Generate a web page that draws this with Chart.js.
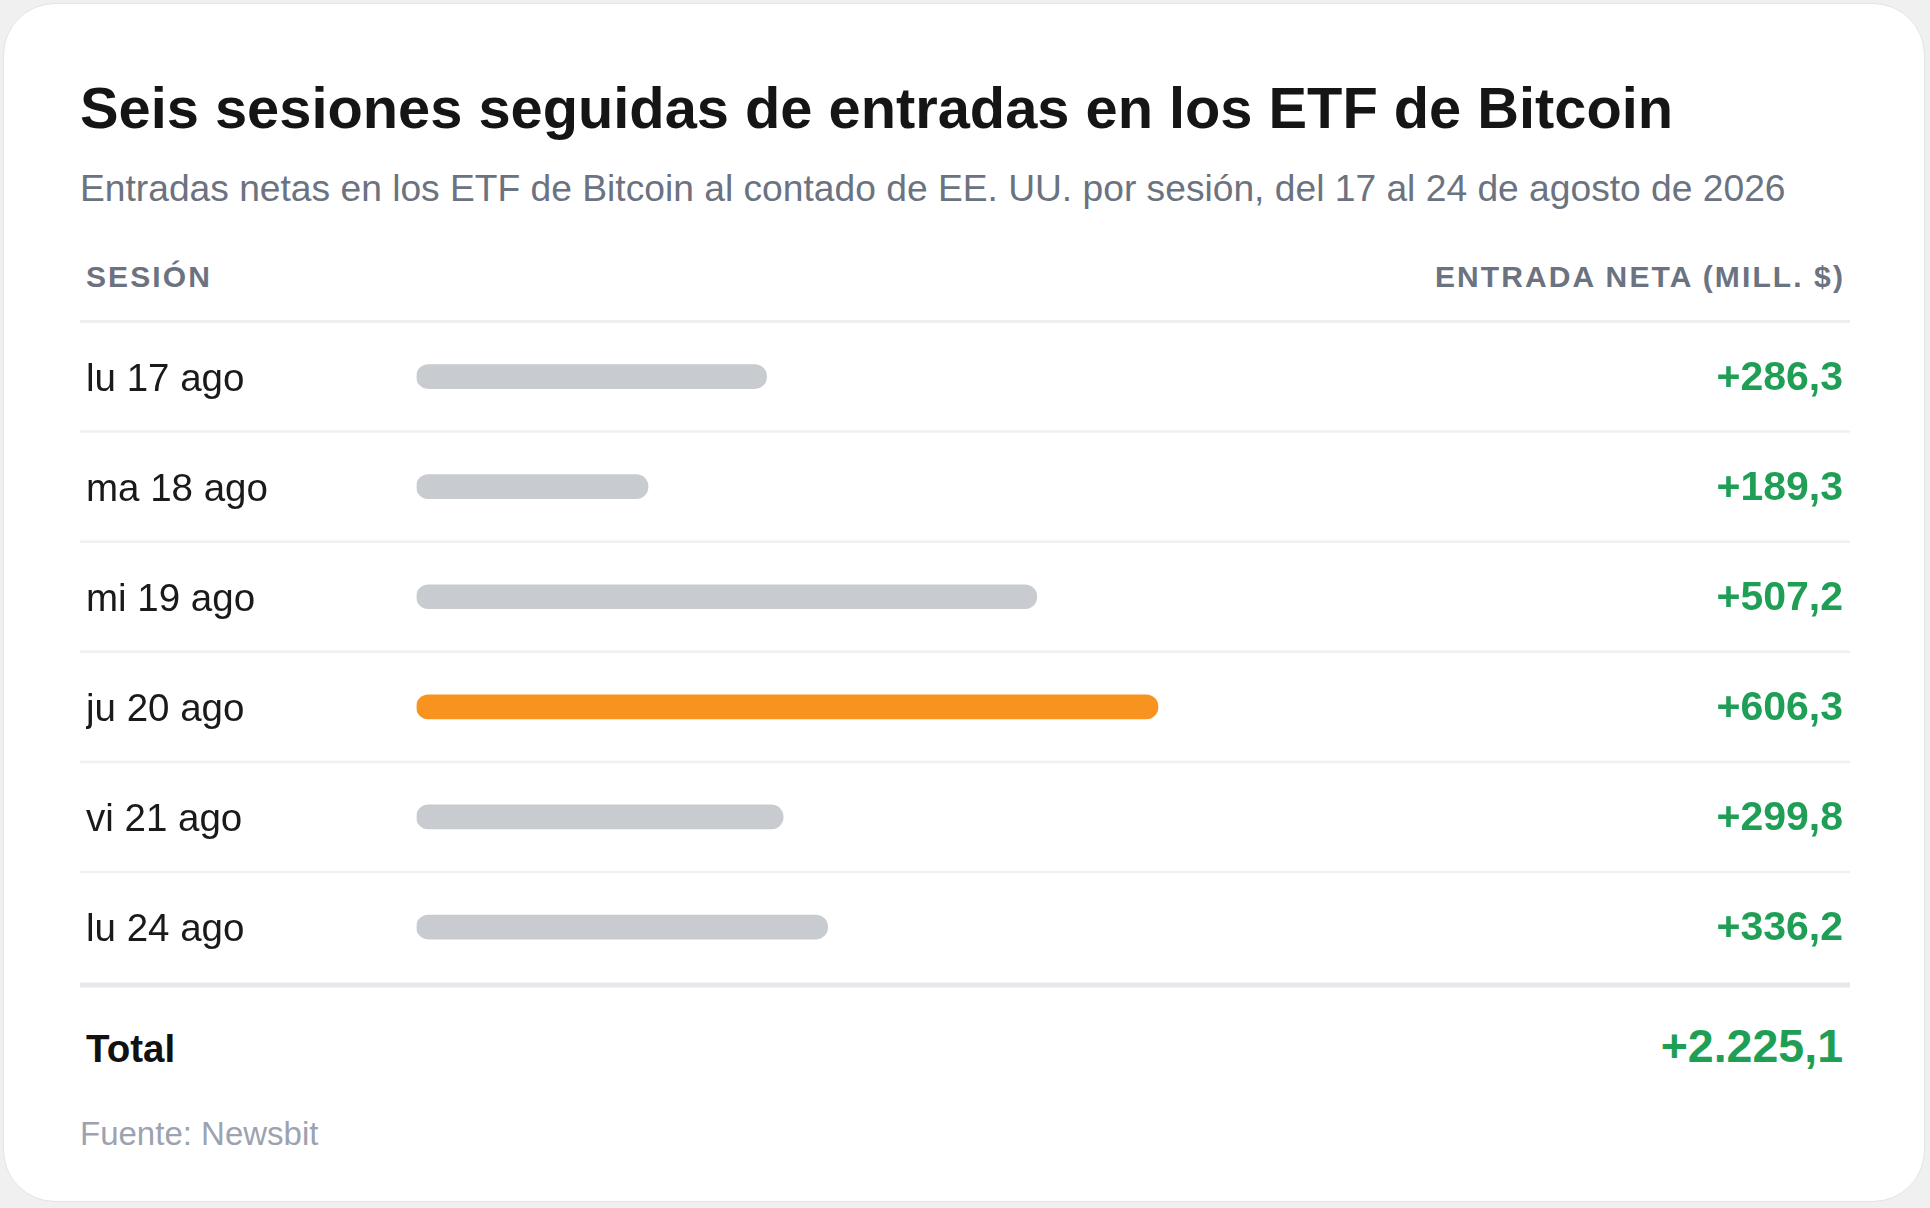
<!DOCTYPE html>
<html lang="es">
<head>
<meta charset="utf-8">
<title>Entradas en los ETF de Bitcoin</title>
<script src="https://cdn.jsdelivr.net/npm/chart.js@4"></script>
<style>
  html, body { margin: 0; padding: 0; }
  body {
    width: 1930px; height: 1208px; background: #f0f0f0;
    font-family: "Liberation Sans", Arial, Helvetica, sans-serif;
    position: relative; overflow: hidden;
  }
  .card {
    position: absolute; left: 3px; top: 3px; width: 1920px; height: 1197px;
    background: #fff; border: 1px solid #e3e3e3; border-radius: 52px;
  }
  .t { position: absolute; white-space: nowrap; line-height: 1; }
  #title { left: 80px; top: 80px; font-size: 57.8px; font-weight: 700; color: #151515; }
  #subtitle { left: 80px; top: 170px; font-size: 37.2px; color: #6b7280; }
  .head { top: 262px; font-size: 30px; font-weight: 700; color: #6b7280; letter-spacing: 2.1px; }
  #headL { left: 86px; }
  #headR { right: 85px; }
  #totalL { left: 86px; top: 1030px; font-size: 38.5px; font-weight: 700; color: #111; }
  #totalR { right: 87px; top: 1023px; font-size: 46.5px; font-weight: 700; color: #1f9e55; }
  #source { left: 80px; top: 1117px; font-size: 33px; color: #9ca3af; }
  #wrap { position: absolute; left: 80px; top: 315px; width: 1770px; height: 680px; }
</style>
</head>
<body>
<div class="card"></div>
<div class="t" id="title">Seis sesiones seguidas de entradas en los ETF de Bitcoin</div>
<div class="t" id="subtitle">Entradas netas en los ETF de Bitcoin al contado de EE. UU. por sesión, del 17 al 24 de agosto de 2026</div>
<div class="t head" id="headL">SESIÓN</div>
<div class="t head" id="headR">ENTRADA NETA (MILL. $)</div>
<div id="wrap"><canvas id="flows"></canvas></div>
<div class="t" id="totalL">Total</div>
<div class="t" id="totalR"></div>
<div class="t" id="source">Fuente: Newsbit</div>

<script>
  const sessions = ['lu 17 ago', 'ma 18 ago', 'mi 19 ago', 'ju 20 ago', 'vi 21 ago', 'lu 24 ago'];
  const netInflows = [286.3, 189.3, 507.2, 606.3, 299.8, 336.2];
  const highlightSession = 'ju 20 ago';
  const totalLabel = '+2.225,1';

  const GREY = '#c8cbd0';
  const ORANGE = '#f7931e';
  const GREEN = '#1f9e55';

  const fmt = v => '+' + v.toFixed(1).replace('.', ',');

  document.getElementById('totalR').textContent = totalLabel;

  // row separators across the full table width + value column on the right
  const tablePlugin = {
    id: 'tableRows',
    beforeDatasetsDraw(chart) {
      const { ctx, chartArea, scales: { y } } = chart;
      const w = chart.width;
      const n = sessions.length;
      ctx.save();
      for (let i = 0; i <= n; i++) {
        let yy, lw, col;
        if (i === 0) { yy = chartArea.top; lw = 3; col = '#eeeeee'; }
        else if (i === n) { yy = chartArea.bottom + 3; lw = 5; col = '#e5e7eb'; }
        else { yy = (y.getPixelForValue(i - 1) + y.getPixelForValue(i)) / 2; lw = 2.5; col = '#f0f0f0'; }
        ctx.strokeStyle = col;
        ctx.lineWidth = lw;
        ctx.beginPath();
        ctx.moveTo(0, yy);
        ctx.lineTo(w, yy);
        ctx.stroke();
      }
      ctx.restore();
    },
    afterDatasetsDraw(chart) {
      const { ctx, scales: { y } } = chart;
      ctx.save();
      ctx.font = 'bold 41px "Liberation Sans", Arial, sans-serif';
      ctx.fillStyle = GREEN;
      ctx.textAlign = 'right';
      ctx.textBaseline = 'alphabetic';
      netInflows.forEach((v, i) => {
        ctx.fillText(fmt(v), 1763, y.getPixelForValue(i) + 13);
      });
      ctx.restore();
    }
  };

  new Chart(document.getElementById('flows'), {
    type: 'bar',
    data: {
      labels: sessions,
      datasets: [{
        label: 'Entrada neta (mill. $)',
        data: netInflows,
        backgroundColor: sessions.map(s => s === highlightSession ? ORANGE : GREY),
        barThickness: 24,
        borderRadius: 12,
        borderSkipped: false
      }]
    },
    options: {
      indexAxis: 'y',
      responsive: true,
      maintainAspectRatio: false,
      animation: false,
      layout: { padding: { left: 6, right: 210.5, top: 6.5, bottom: 12.9 } },
      plugins: { legend: { display: false }, tooltip: { enabled: false } },
      scales: {
        x: { display: false, min: 0, max: 1000 },
        y: {
          grid: { display: false },
          border: { display: false },
          afterFit(scale) {
            scale.width = 330.5;
            scale.paddingTop = 0;
            scale.paddingBottom = 0;
          },
          ticks: {
            crossAlign: 'far',
            labelOffset: 3.5,
            color: '#1a1a1a',
            font: { family: '"Liberation Sans", Arial, sans-serif', size: 38.5 }
          }
        }
      }
    },
    plugins: [tablePlugin]
  });
</script>
</body>
</html>
